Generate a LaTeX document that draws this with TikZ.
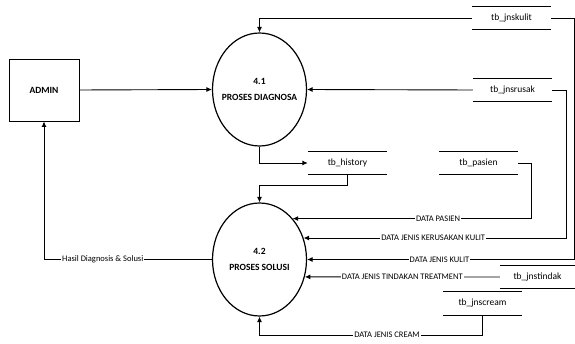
\documentclass[tikz,border=0pt]{standalone}
\usepackage{fontspec}
\setmainfont{Carlito}
\usetikzlibrary{shapes.geometric,arrows.meta}

\newcommand{\zw}[1]{\makebox[0pt]{#1}}

\tikzset{
  proc/.style={draw,ellipse,line width=1.2pt,minimum width=94pt,minimum height=113pt,
    inner sep=0pt,align=center,font=\bfseries\fontsize{9.5}{16}\selectfont},
  entity/.style={draw,line width=0.9pt,minimum width=70pt,minimum height=62pt,
    font=\bfseries\fontsize{9.5}{11}\selectfont},
  store/.style={minimum width=79pt,minimum height=22pt,inner sep=0pt,
    font=\fontsize{9.5}{11}\selectfont,
    append after command={(\tikzlastnode.north west) edge[line width=0.9pt] (\tikzlastnode.north east)
      (\tikzlastnode.south west) edge[line width=0.9pt] (\tikzlastnode.south east)}},
  lbl/.style={fill=white,inner sep=1pt,font=\fontsize{8.5}{10}\selectfont},
  flow/.style={line width=0.9pt,-{Latex[length=5.5pt,width=5pt]}}
}

\begin{document}
\begin{tikzpicture}[x=1pt,y=-1pt]
\useasboundingbox (0,0) rectangle (575,344);
% entity and processes
\node[entity] (admin) at (44,90) {ADMIN};
\node[proc] (p41) at (259.5,89.5) {\zw{4.1}\\\zw{PROSES DIAGNOSA}};
\node[proc] (p42) at (259.5,259.5) {\zw{4.2}\\\zw{PROSES SOLUSI}};
% data stores
\node[store] (jnskulit) at (511.5,18) {tb\_jnskulit};
\node[store] (jnsrusak) at (512.5,90) {tb\_jnsrusak};
\node[store] (history) at (347.5,163) {tb\_history};
\node[store] (pasien) at (478.5,163) {tb\_pasien};
\node[store,minimum width=75pt] (jnstindak) at (537.5,277) {tb\_jnstindak};
\node[store,minimum height=23pt] (jnscream) at (482.5,303.5) {tb\_jnscream};
% bend points
\coordinate (k1) at (574,18);
\coordinate (k2) at (566,90);
\coordinate (k3) at (531,163);
\coordinate (h1) at (347.5,185);
\coordinate (c1) at (482.5,335);
% flows
\draw[flow] (admin.east) -- (p41.west);
\draw[flow] (jnskulit.west) -| (p41.north);
\draw[flow] (jnsrusak.west) -- (p41.east);
\draw[flow] (p41.south) |- (history.west);
\draw[flow] (history.south) -- (h1) -| (p42.north);
\draw[flow] (pasien.east) -- (k3) |- node[lbl,pos=0.695] {DATA PASIEN} (p42.51);
\draw[flow] (jnsrusak.east) -- (k2) |- node[lbl,pos=0.753] {DATA JENIS KERUSAKAN KULIT} (p42.26);
\draw[flow] (jnskulit.east) -- (k1) |- node[lbl,pos=0.752] {DATA JENIS KULIT} (p42.east);
\draw[flow] (jnstindak.west) -- node[lbl,pos=0.5] {DATA JENIS TINDAKAN TREATMENT} (p42.-21);
\draw[flow] (jnscream.south) -- (c1) -| node[lbl,pos=0.214] {DATA JENIS CREAM} (p42.south);
\draw[flow] (p42.west) -| node[lbl,pos=0.325] {Hasil Diagnosis \& Solusi} (admin.south);
\end{tikzpicture}
\end{document}
